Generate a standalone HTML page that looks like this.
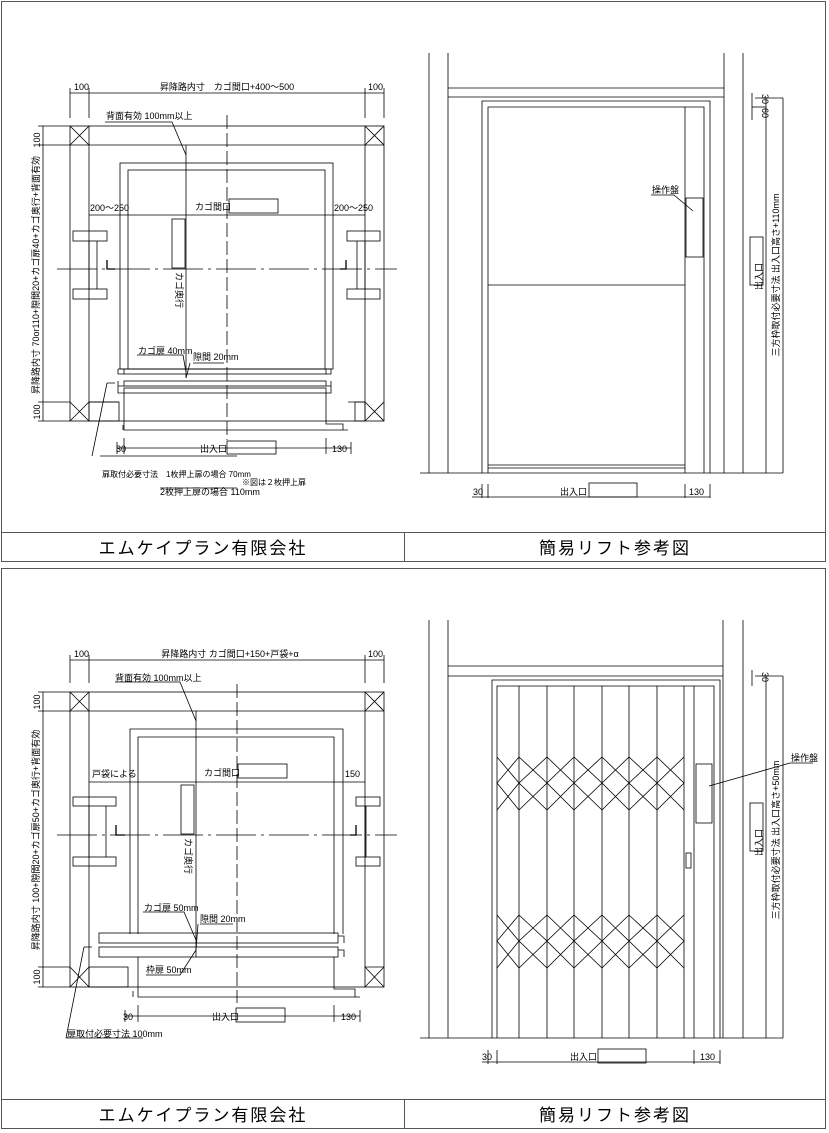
<!DOCTYPE html>
<html><head><meta charset="utf-8"><style>
html,body{margin:0;padding:0;background:#fff;}
svg{display:block;}
text{font-family:"Liberation Sans","Noto Sans CJK JP",sans-serif;fill:#000;}
.s{font-size:9px;}
.t{font-size:17px;letter-spacing:2px;}
</style></head><body>
<svg width="829" height="1133" viewBox="0 0 829 1133" xmlns="http://www.w3.org/2000/svg" fill="none" stroke="#000" stroke-width="1">
<!-- frames -->
<rect x="1.5" y="1.5" width="824" height="560" stroke="#555"/>
<line x1="1.5" y1="532.5" x2="825.5" y2="532.5" stroke="#555"/>
<line x1="404.5" y1="532.5" x2="404.5" y2="561.5" stroke="#555"/>
<rect x="1.5" y="568.5" width="824" height="560" stroke="#555"/>
<line x1="1.5" y1="1099.5" x2="825.5" y2="1099.5" stroke="#555"/>
<line x1="404.5" y1="1099.5" x2="404.5" y2="1128.5" stroke="#555"/>
<g stroke="none">
<text class="t" x="203" y="554" text-anchor="middle">エムケイプラン有限会社</text>
<text class="t" x="615" y="554" text-anchor="middle">簡易リフト参考図</text>
<text class="t" x="203" y="1121" text-anchor="middle">エムケイプラン有限会社</text>
<text class="t" x="615" y="1121" text-anchor="middle">簡易リフト参考図</text>
</g>

<!-- ===== TOP LEFT PLAN ===== -->
<g stroke-width="0.8">
<line x1="70" y1="93" x2="384" y2="93"/>
<line x1="70" y1="88" x2="70" y2="118"/><line x1="89" y1="88" x2="89" y2="118"/>
<line x1="365" y1="88" x2="365" y2="118"/><line x1="384" y1="88" x2="384" y2="118"/>
<line x1="43" y1="126" x2="43" y2="421"/>
<line x1="38" y1="126" x2="70" y2="126"/><line x1="38" y1="145" x2="70" y2="145"/>
<line x1="38" y1="402" x2="70" y2="402"/><line x1="38" y1="421" x2="70" y2="421"/>
<rect x="70" y="126" width="314" height="295"/>
<line x1="89" y1="126" x2="89" y2="421"/><line x1="365" y1="126" x2="365" y2="421"/>
<line x1="70" y1="145" x2="384" y2="145"/>
<line x1="89" y1="402" x2="118" y2="402"/><line x1="348" y1="402" x2="365" y2="402"/>
<path d="M70 126L89 145M89 126L70 145M365 126L384 145M384 126L365 145M70 402L89 421M89 402L70 421M365 402L384 421M384 402L365 421"/>
<rect x="89" y="402" width="30" height="19"/><rect x="355" y="402" width="10" height="19"/>
<rect x="120" y="163" width="213" height="206"/>
<rect x="128" y="170" width="197" height="199"/>
<line x1="89" y1="215" x2="365" y2="215"/>
<rect x="73" y="231" width="34" height="10"/><rect x="73" y="289" width="34" height="10"/>
<line x1="89" y1="241" x2="89" y2="289"/><line x1="97" y1="241" x2="97" y2="289"/>
<rect x="347" y="231" width="33" height="10"/><rect x="347" y="289" width="33" height="10"/>
<line x1="357" y1="241" x2="357" y2="289"/><line x1="365" y1="241" x2="365" y2="289"/>
<path d="M107 260V269H115M346 260V269H340" stroke-width="1.3"/>
<line x1="57" y1="269" x2="397" y2="269" stroke-dasharray="40,5,3,5"/>
<line x1="227" y1="115" x2="227" y2="440" stroke-dasharray="14,4"/>
<rect x="172" y="219" width="13" height="49"/>
<rect x="229" y="199" width="49" height="14"/>
<line x1="186" y1="145" x2="186" y2="378"/>
<path d="M105 122H172L186 155"/>
<rect x="124" y="369" width="202" height="5"/><path d="M118 369H124M118 369V374H124M326 369H331V374H326"/>
<rect x="124" y="381" width="202" height="5"/><rect x="124" y="388" width="202" height="5"/>
<path d="M118 381V393H124M331 381V393H326M118 386H124M331 386H326"/>
<path d="M124 393V430H348M326 393V424H343V430"/>
<path d="M123 425V430"/>
<path d="M137 355H183L186 372M193 363H224M186 378L190 363"/>
<path d="M107 383H115M107 383L92 456"/>
<line x1="117" y1="448" x2="351" y2="448"/>
<line x1="117" y1="442" x2="117" y2="454"/><line x1="124" y1="438" x2="124" y2="454"/>
<line x1="326" y1="438" x2="326" y2="454"/><line x1="351" y1="442" x2="351" y2="454"/>
<rect x="227" y="441" width="49" height="13"/>
<path d="M100 456H237M160 488H237"/>
</g>
<g stroke="none" class="s">
<text x="74" y="90">100</text><text x="368" y="90">100</text>
<text x="227" y="90" text-anchor="middle">昇降路内寸　カゴ間口+400～500</text>
<text x="106" y="119">背面有効 100mm以上</text>
<text x="90" y="211">200～250</text><text x="334" y="211">200～250</text>
<text x="195" y="210">カゴ間口</text>
<text x="138" y="354">カゴ扉 40mm</text><text x="193" y="360">隙間 20mm</text>
<text x="116" y="452">30</text><text x="332" y="452">130</text>
<text x="200" y="452">出入口</text>
<text x="102" y="477" style="font-size:8px">扉取付必要寸法　1枚押上扉の場合 70mm</text>
<text x="242" y="485" style="font-size:8px">※図は２枚押上扉</text>
<text x="160" y="495">2枚押上扉の場合 110mm</text>
<text transform="translate(40,140) rotate(-90)" text-anchor="middle">100</text>
<text transform="translate(40,412) rotate(-90)" text-anchor="middle">100</text>
<text transform="translate(39,275) rotate(-90)" text-anchor="middle">昇降路内寸 70or110+隙間20+カゴ扉40+カゴ奥行+背面有効</text>
<text transform="translate(176,272) rotate(90)">カゴ奥行</text>
</g>

<!-- ===== TOP RIGHT ELEVATION ===== -->
<g stroke-width="0.8">
<line x1="429" y1="53" x2="429" y2="473"/><line x1="448" y1="53" x2="448" y2="473"/>
<line x1="724" y1="53" x2="724" y2="473"/><line x1="743" y1="53" x2="743" y2="473"/>
<line x1="448" y1="88" x2="724" y2="88"/><line x1="448" y1="97" x2="724" y2="97"/>
<path d="M482 473V101H710V473"/>
<path d="M488 473V107H704V473"/>
<line x1="685" y1="107" x2="685" y2="473"/>
<line x1="488" y1="285" x2="685" y2="285"/>
<line x1="488" y1="465" x2="685" y2="465"/><line x1="488" y1="468" x2="685" y2="468"/>
<rect x="686" y="198" width="17" height="59"/>
<path d="M651 195H674L693 211"/>
<line x1="420" y1="473" x2="783" y2="473"/>
<line x1="766" y1="98" x2="766" y2="473"/><line x1="783" y1="98" x2="783" y2="473"/>
<line x1="755" y1="98" x2="783" y2="98"/>
<line x1="752" y1="93" x2="752" y2="120"/><line x1="752" y1="107" x2="766" y2="107"/>
<rect x="750" y="237" width="13" height="48"/>
<line x1="472" y1="497" x2="710" y2="497"/>
<line x1="482" y1="484" x2="482" y2="498"/><line x1="488" y1="484" x2="488" y2="498"/>
<line x1="685" y1="484" x2="685" y2="498"/><line x1="710" y1="484" x2="710" y2="498"/>
<rect x="589" y="483" width="48" height="14"/>
</g>
<g stroke="none" class="s">
<text x="652" y="193">操作盤</text>
<text x="473" y="495">30</text><text x="689" y="495">130</text>
<text x="560" y="495">出入口</text>
<text transform="translate(762,94) rotate(90)">30</text>
<text transform="translate(762,108) rotate(90)">60</text>
<text transform="translate(762,290) rotate(-90)">出入口</text>
<text transform="translate(779,275) rotate(-90)" text-anchor="middle">三方枠取付必要寸法 出入口高さ+110mm</text>
</g>

<!-- ===== BOTTOM LEFT PLAN ===== -->
<g stroke-width="0.8">
<line x1="70" y1="660" x2="384" y2="660"/>
<line x1="70" y1="655" x2="70" y2="683"/><line x1="89" y1="655" x2="89" y2="683"/>
<line x1="365" y1="655" x2="365" y2="683"/><line x1="384" y1="655" x2="384" y2="683"/>
<line x1="43" y1="692" x2="43" y2="987"/>
<line x1="38" y1="692" x2="70" y2="692"/><line x1="38" y1="711" x2="70" y2="711"/>
<line x1="38" y1="967" x2="70" y2="967"/><line x1="38" y1="987" x2="70" y2="987"/>
<rect x="70" y="692" width="314" height="295"/>
<line x1="89" y1="692" x2="89" y2="987"/><line x1="365" y1="692" x2="365" y2="987"/>
<line x1="70" y1="711" x2="384" y2="711"/>
<path d="M70 692L89 711M89 692L70 711M365 692L384 711M384 692L365 711M70 967L89 987M89 967L70 987M365 967L384 987M384 967L365 987"/>
<rect x="89" y="967" width="39" height="20"/>
<line x1="365" y1="967" x2="384" y2="967"/>
<path d="M130 934V729H343V934"/>
<path d="M138 934V737H334V934"/>
<line x1="89" y1="782" x2="365" y2="782"/>
<rect x="73" y="797" width="43" height="9"/><rect x="73" y="857" width="43" height="9"/>
<line x1="89" y1="806" x2="89" y2="857"/><line x1="106" y1="806" x2="106" y2="857"/>
<rect x="356" y="797" width="24" height="9"/><rect x="356" y="857" width="24" height="9"/>
<line x1="365" y1="806" x2="365" y2="857"/><line x1="366" y1="806" x2="366" y2="857"/>
<path d="M116 825V835H125M356 825V835H350" stroke-width="1.3"/>
<line x1="57" y1="835" x2="397" y2="835" stroke-dasharray="40,5,3,5"/>
<line x1="237" y1="684" x2="237" y2="1003" stroke-dasharray="14,4"/>
<rect x="181" y="785" width="13" height="49"/>
<rect x="238" y="764" width="49" height="14"/>
<line x1="196" y1="711" x2="196" y2="957"/>
<path d="M115 682H180L196 721"/>
<rect x="99" y="933" width="239" height="10"/>
<rect x="99" y="947" width="239" height="10"/>
<path d="M338 936H344V943M338 950H344V957"/>
<path d="M138 957V997H360M334 957V989H355V997M133 991V997"/>
<path d="M143 912H184L196 940M200 924H233M196 950L198 924"/>
<path d="M146 975H180L196 950"/>
<path d="M84 947H92M84 947L66 1038"/>
<line x1="125" y1="1016" x2="360" y2="1016"/>
<line x1="125" y1="1010" x2="125" y2="1022"/><line x1="138" y1="1005" x2="138" y2="1022"/>
<line x1="334" y1="1005" x2="334" y2="1022"/><line x1="360" y1="1010" x2="360" y2="1022"/>
<rect x="236" y="1008" width="49" height="14"/>
<path d="M66 1038H143"/>
</g>
<g stroke="none" class="s">
<text x="74" y="657">100</text><text x="368" y="657">100</text>
<text x="230" y="657" text-anchor="middle">昇降路内寸 カゴ間口+150+戸袋+α</text>
<text x="115" y="681">背面有効 100mm以上</text>
<text x="92" y="777">戸袋による</text>
<text x="345" y="777">150</text>
<text x="204" y="776">カゴ間口</text>
<text x="144" y="911">カゴ扉 50mm</text><text x="200" y="922">隙間 20mm</text>
<text x="146" y="973">枠扉 50mm</text>
<text x="123" y="1020">30</text><text x="341" y="1020">130</text>
<text x="212" y="1020">出入口</text>
<text x="67" y="1037">扉取付必要寸法 100mm</text>
<text transform="translate(40,702) rotate(-90)" text-anchor="middle">100</text>
<text transform="translate(40,977) rotate(-90)" text-anchor="middle">100</text>
<text transform="translate(39,840) rotate(-90)" text-anchor="middle">昇降路内寸 100+隙間20+カゴ扉50+カゴ奥行+背面有効</text>
<text transform="translate(185,838) rotate(90)">カゴ奥行</text>
</g>

<!-- ===== BOTTOM RIGHT ELEVATION ===== -->
<g stroke-width="0.8">
<line x1="429" y1="620" x2="429" y2="1038"/><line x1="448" y1="620" x2="448" y2="1038"/>
<line x1="723" y1="620" x2="723" y2="1038"/><line x1="743" y1="620" x2="743" y2="1038"/>
<line x1="448" y1="666" x2="723" y2="666"/><line x1="448" y1="676" x2="723" y2="676"/>
<path d="M492 1038V680H720V1038"/>
<path d="M497 1038V686H714V1038"/>
<path d="M519 686V1038M547 686V1038M574 686V1038M602 686V1038M629 686V1038M657 686V1038M684 686V1038M694 686V1038"/>
<path id="dm" d="M497 757L519 783L497 810M519 757L497 783L519 810M519 757L547 783L519 810M547 757L519 783L547 810M547 757L574 783L547 810M574 757L547 783L574 810M574 757L602 783L574 810M602 757L574 783L602 810M602 757L629 783L602 810M629 757L602 783L629 810M629 757L657 783L629 810M657 757L629 783L657 810M657 757L684 783L657 810M684 757L657 783L684 810"/>
<use href="#dm" transform="translate(0,158)"/>
<rect x="696" y="764" width="16" height="59"/>
<rect x="686" y="853" width="5" height="15"/>
<path d="M709 786L790 763H813"/>
<line x1="420" y1="1038" x2="783" y2="1038"/>
<line x1="766" y1="676" x2="766" y2="1038"/><line x1="783" y1="676" x2="783" y2="1038"/>
<line x1="755" y1="676" x2="783" y2="676"/>
<line x1="752" y1="670" x2="752" y2="686"/>
<rect x="750" y="803" width="13" height="48"/>
<line x1="482" y1="1062" x2="720" y2="1062"/>
<line x1="488" y1="1050" x2="488" y2="1064"/><line x1="497" y1="1050" x2="497" y2="1064"/>
<line x1="694" y1="1050" x2="694" y2="1064"/><line x1="720" y1="1050" x2="720" y2="1064"/>
<rect x="598" y="1049" width="48" height="14"/>
</g>
<g stroke="none" class="s">
<text x="791" y="761">操作盤</text>
<text x="482" y="1060">30</text><text x="700" y="1060">130</text>
<text x="570" y="1060">出入口</text>
<text transform="translate(762,672) rotate(90)">30</text>
<text transform="translate(762,856) rotate(-90)">出入口</text>
<text transform="translate(779,840) rotate(-90)" text-anchor="middle">三方枠取付必要寸法 出入口高さ+50mm</text>
</g>
</svg>
</body></html>
